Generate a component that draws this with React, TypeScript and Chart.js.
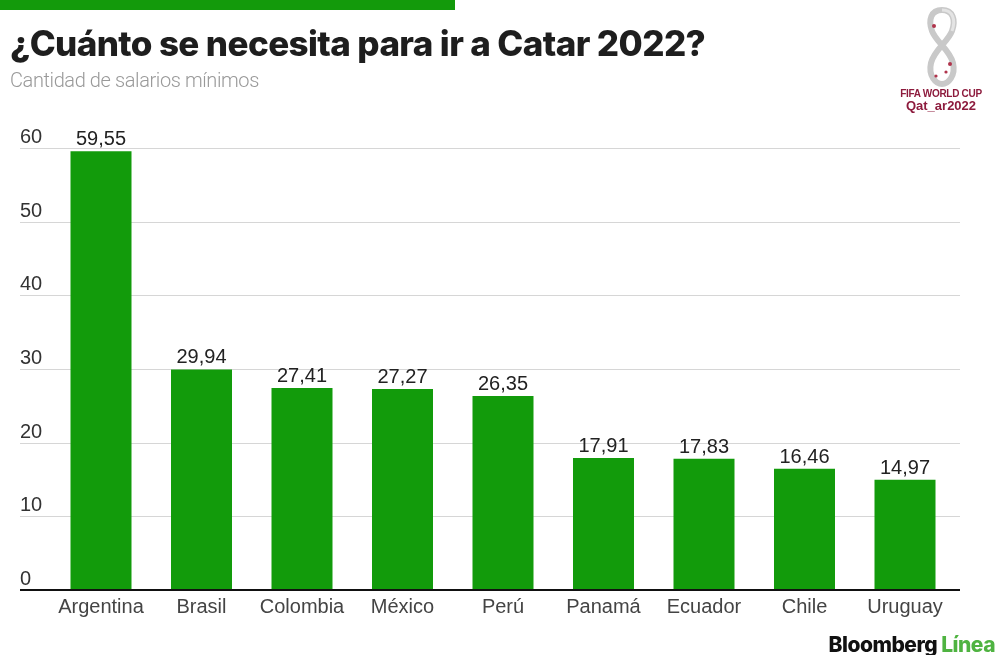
import React, { useEffect, useRef } from "react";
import { Chart, registerables } from "chart.js";

Chart.register(...registerables);

const categories = ["Argentina", "Brasil", "Colombia", "México", "Perú", "Panamá", "Ecuador", "Chile", "Uruguay"];
const values = [59.55, 29.94, 27.41, 27.27, 26.35, 17.91, 17.83, 16.46, 14.97];
const yTicks = [0, 10, 20, 30, 40, 50, 60];

const BAR_GREEN = "#129b0b";
const TICK_FONT = "20px 'Liberation Sans', Arial, sans-serif";

const fmt = (v: number) => v.toFixed(2).replace(".", ",");

const overlayPlugin = {
  id: "overlay",
  beforeDatasetsDraw(chart: any) {
    const ctx = chart.ctx;
    const y = chart.scales.y;
    ctx.save();
    yTicks.forEach((t) => {
      const py = Math.round(y.getPixelForValue(t));
      if (t !== 0) {
        ctx.strokeStyle = "#d6d6d6";
        ctx.lineWidth = 1;
        ctx.beginPath();
        ctx.moveTo(20, py + 0.5);
        ctx.lineTo(960, py + 0.5);
        ctx.stroke();
      }
      ctx.fillStyle = "#333";
      ctx.font = TICK_FONT;
      ctx.textAlign = "left";
      ctx.textBaseline = "alphabetic";
      ctx.fillText(String(t), 20, py - 5);
    });
    ctx.restore();
  },
  afterDatasetsDraw(chart: any) {
    const ctx = chart.ctx;
    const y = chart.scales.y;
    ctx.save();
    const py = Math.round(y.getPixelForValue(0));
    ctx.strokeStyle = "#111";
    ctx.lineWidth = 2;
    ctx.beginPath();
    ctx.moveTo(20, py);
    ctx.lineTo(960, py);
    ctx.stroke();
    const meta = chart.getDatasetMeta(0);
    ctx.fillStyle = "#222";
    ctx.font = TICK_FONT;
    ctx.textAlign = "center";
    ctx.textBaseline = "alphabetic";
    meta.data.forEach((bar: any, i: number) => {
      ctx.fillText(fmt(values[i]), bar.x, bar.y - 6);
    });
    ctx.restore();
  },
};

function Emblem() {
  return (
    <svg width="44" height="84" viewBox="0 0 44 84" style={{ position: "absolute", left: 920, top: 6 }}>
      <path
        d="M22 4 C33 4 36 14 32 25 C28 36 14 44 11 57 C8 70 16 78 22 78 C28 78 36 70 33 57 C30 44 16 36 12 25 C8 14 11 4 22 4 Z"
        fill="none"
        stroke="#c9c9c9"
        strokeWidth="6"
      />
      <path d="M22 4 C33 4 36 14 32 25" fill="none" stroke="#e4e4e4" strokeWidth="3" />
      <circle cx="14" cy="20" r="2" fill="#b0344c" />
      <circle cx="30" cy="58" r="2" fill="#b0344c" />
      <circle cx="26" cy="66" r="1.6" fill="#b0344c" />
      <circle cx="16" cy="70" r="1.6" fill="#b0344c" />
    </svg>
  );
}

export default function App() {
  const canvasRef = useRef<HTMLCanvasElement | null>(null);

  useEffect(() => {
    document.body.style.margin = "0";
    if (!canvasRef.current) return;
    const chart = new Chart(canvasRef.current, {
      type: "bar",
      data: {
        labels: categories,
        datasets: [
          {
            data: values,
            backgroundColor: BAR_GREEN,
            borderWidth: 0,
            barPercentage: 0.607,
            categoryPercentage: 1,
          },
        ],
      },
      options: {
        animation: false,
        responsive: true,
        maintainAspectRatio: false,
        layout: { padding: { left: 50.75, right: 44.75, top: 148, bottom: 0 } },
        plugins: {
          legend: { display: false },
          tooltip: { enabled: false },
        },
        scales: {
          x: {
            grid: { display: false, drawTicks: false },
            border: { display: false },
            ticks: {
              color: "#444",
              font: { family: "'Liberation Sans', Arial, sans-serif", size: 20 },
              padding: 5,
              maxRotation: 0,
              autoSkip: false,
            },
            afterFit: (scale: any) => {
              scale.height = 65;
            },
          },
          y: {
            display: false,
            min: 0,
            max: 60,
          },
        },
      },
      plugins: [overlayPlugin],
    });
    return () => chart.destroy();
  }, []);

  return (
    <div
      style={{
        position: "fixed",
        left: 0,
        top: 0,
        width: 1000,
        height: 655,
        background: "#fff",
        overflow: "hidden",
      }}
    >
      <div style={{ position: "absolute", left: 0, top: 0, width: 1000, height: 655 }}>
        <canvas ref={canvasRef} />
      </div>
      <div style={{ position: "absolute", left: 0, top: 0, width: 455, height: 10, background: "#139a0b" }} />
      <div
        style={{
          position: "absolute",
          left: 10,
          top: 26,
          fontFamily: "Inter, sans-serif",
          fontWeight: 800,
          fontSize: 35,
          lineHeight: "35px",
          letterSpacing: "-0.6px",
          color: "#1e1e1e",
          whiteSpace: "nowrap",
        }}
      >
        ¿Cuánto se necesita para ir a Catar 2022?
      </div>
      <div
        style={{
          position: "absolute",
          left: 10,
          top: 70,
          fontFamily: "Roboto, sans-serif",
          fontWeight: 300,
          fontSize: 20,
          lineHeight: "20px",
          letterSpacing: "-0.4px",
          color: "#999",
          whiteSpace: "nowrap",
        }}
      >
        Cantidad de salarios mínimos
      </div>
      <Emblem />
      <div
        style={{
          position: "absolute",
          left: 890,
          top: 89,
          width: 102,
          textAlign: "center",
          color: "#8d1b3d",
          fontFamily: "'Liberation Sans Narrow', 'Liberation Sans', Arial, sans-serif",
          fontWeight: 700,
          whiteSpace: "nowrap",
        }}
      >
        <div style={{ fontSize: 10, lineHeight: "10px", letterSpacing: "-0.3px" }}>FIFA WORLD CUP</div>
        <div style={{ fontSize: 13, lineHeight: "13px", letterSpacing: "0px" }}>Qat_ar2022</div>
      </div>
      <div
        style={{
          position: "absolute",
          right: 5,
          top: 634,
          fontFamily: "Inter, sans-serif",
          fontWeight: 800,
          fontSize: 21,
          lineHeight: "21px",
          letterSpacing: "-0.5px",
          whiteSpace: "nowrap",
        }}
      >
        <span style={{ color: "#111" }}>Bloomberg</span>{" "}
        <span style={{ color: "#4fb341" }}>Línea</span>
      </div>
    </div>
  );
}
